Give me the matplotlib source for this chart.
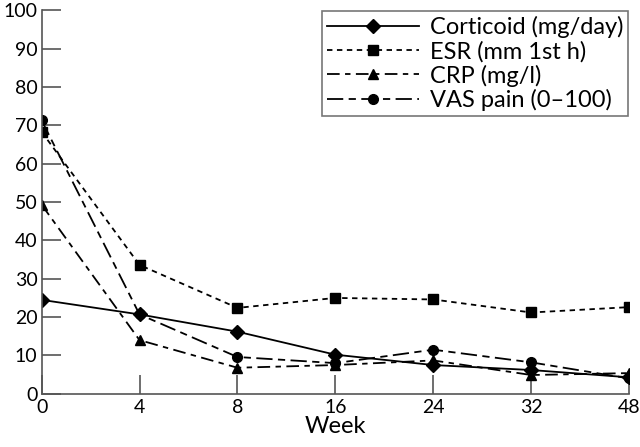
import matplotlib
matplotlib.use("Agg")
import matplotlib.pyplot as plt

weeks = ["0", "4", "8", "16", "24", "32", "48"]
corticoid = [24.5, 20.7, 16.2, 10.2, 7.5, 6.2, 4.3]
esr = [68.3, 33.6, 22.4, 25.0, 24.6, 21.2, 22.6]
crp = [49.3, 14.0, 6.8, 7.5, 8.7, 4.9, 5.4]
vas = [71.3, 20.7, 9.6, 8.0, 11.5, 8.2, 4.0]

plt.rcParams['font.family'] = ['Lato', 'DejaVu Sans']

fig = plt.figure(figsize=(6.4, 4.47), dpi=100)
ax = fig.add_axes([0.065, 0.119, 0.918, 0.858])

x = list(range(len(weeks)))
ax.plot(x, corticoid, color='black', lw=1.3, marker='D', ms=7, label='Corticoid (mg/day)')
ax.plot(x, esr, color='black', lw=1.3, ls=(0, (3, 2.5)), marker='s', ms=7, label='ESR (mm 1st h)')
ax.plot(x, crp, color='black', lw=1.3, ls=(0, (7, 3, 3, 3)), marker='^', ms=7, label='CRP (mg/l)')
ax.plot(x, vas, color='black', lw=1.3, ls=(0, (9, 3, 4, 3)), marker='o', ms=7, label='VAS pain (0\u2013100)')

ax.set_xlim(0, 6)
ax.set_ylim(0, 100)
ax.set_xticks(x)
ax.set_xticklabels(weeks)
ax.set_yticks(range(0, 101, 10))
ax.spines['top'].set_visible(False)
ax.spines['right'].set_visible(False)
for s in ['left', 'bottom']:
    ax.spines[s].set_color('#555555')
    ax.spines[s].set_linewidth(1.2)
ax.tick_params(direction='in', length=14, width=1.2, color='#555555', labelsize=14)
ax.tick_params(axis='y', pad=3)
ax.tick_params(axis='x', pad=4)
ax.set_xlabel('Week', fontsize=17, labelpad=0)

leg = ax.legend(loc='upper right', bbox_to_anchor=(1.0, 1.0), fontsize=17, frameon=True,
                fancybox=False, handlelength=3.9, borderpad=0.2, labelspacing=0.1,
                handletextpad=0.45, borderaxespad=0.05)
leg.get_frame().set_edgecolor('#555555')
leg.get_frame().set_linewidth(1.2)

fig.savefig('out.png', dpi=100)
